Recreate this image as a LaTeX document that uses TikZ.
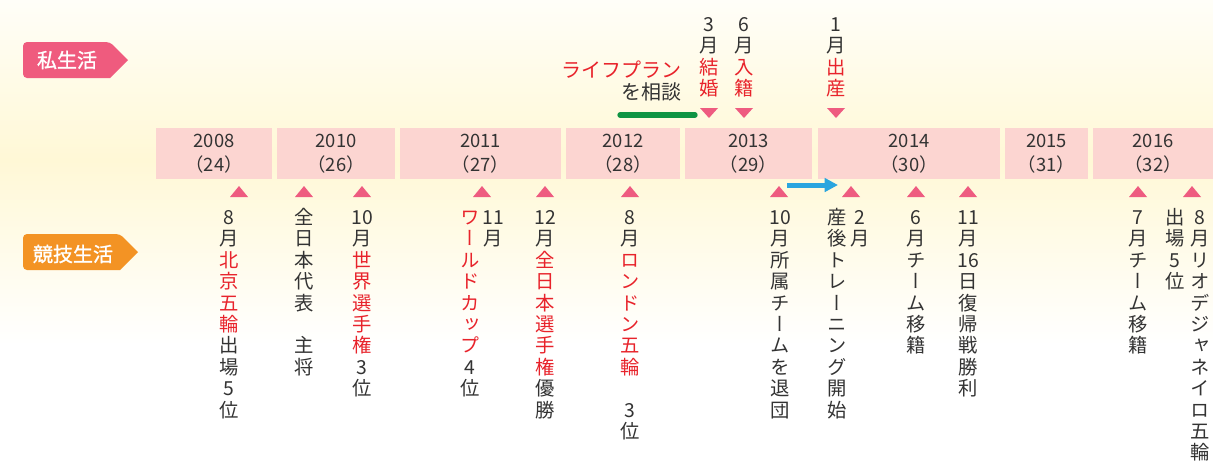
\documentclass[tikz,border=0pt]{standalone}
\usepackage{fontspec}
\setmainfont{Noto Sans CJK JP}
\newfontfamily\jp{Noto Sans CJK JP}
\newfontfamily\jpb[FakeBold=1.2]{Noto Sans CJK JP}
\newfontfamily\jpv[RawFeature={+vert}]{Noto Sans CJK JP}
\usetikzlibrary{arrows.meta}
\definecolor{jred}{HTML}{E8232B}
\definecolor{tri}{HTML}{EE5B80}
\definecolor{boxc}{HTML}{FCD5D1}
\definecolor{txt}{HTML}{333333}
\definecolor{tagp}{HTML}{EF5B7E}
\definecolor{tago}{HTML}{F39324}
\definecolor{bly}{HTML}{2AA5DF}
\definecolor{grn}{HTML}{0F9443}
\definecolor{yel}{HTML}{FFF8D6}
\definecolor{bgtop}{HTML}{FFFEF8}
\newcommand\rd[1]{\textcolor{jred}{#1}}
\tikzset{
  ch/.style={inner sep=0pt, font=\jpv\fontsize{14.5}{16}\selectfont, text=txt,
    anchor=center, text height=12.8pt, text depth=1.7pt},
  ybox/.style={fill=boxc, inner sep=0pt, minimum height=38.25pt, align=center,
    text=txt, font=\jp\fontsize{13.8}{18}\selectfont},
  tagtext/.style={text=white, inner sep=0pt, font=\jpb\fontsize{15}{18}\selectfont},
  toptext/.style={inner sep=0pt, font=\jp\fontsize{15}{18}\selectfont, text=txt}
}
\newcommand\vcol[4]{%
  \foreach \vc [count=\i from 0] in {#4} {\node[ch] (#1-\i) at (#2, #3+\i*21.4) {\vc};}%
}
\newcommand\uptri[1]{\fill[tri] (#1-9,197) -- (#1,186) -- (#1+9,197) -- cycle;}
\newcommand\dntri[1]{\fill[tri] (#1-9,108) -- (#1,118) -- (#1+9,108) -- cycle;}
\begin{document}
\begin{tikzpicture}[x=0.75pt,y=-0.75pt]
\useasboundingbox (0,0) rectangle (1213,462);
% background
\shade[top color=bgtop, bottom color=yel] (0,0) rectangle (1213,160);
\shade[top color=yel, bottom color=white] (0,160) rectangle (1213,345);
\fill[white] (0,345) rectangle (1213,462);
% tags
\fill[tagp] (23,60) [rounded corners=3pt] -- (23,42) -- (110,42) [sharp corners] -- (128,60) -- (110,78) [rounded corners=3pt] -- (23,78) [sharp corners] -- cycle;
\node[tagtext] (tagpriv) at (67,60) {私生活};
\fill[tago] (23,252) [rounded corners=3pt] -- (23,234) -- (120,234) [sharp corners] -- (138,252) -- (120,270) [rounded corners=3pt] -- (23,270) [sharp corners] -- cycle;
\node[tagtext] (tagcomp) at (73,254) {競技生活};
% year boxes
\node[ybox, minimum width=116*0.75pt] (y2008) at (214,153.5) {2008\\（24）};
\node[ybox, minimum width=118*0.75pt] (y2010) at (336,153.5) {2010\\（26）};
\node[ybox, minimum width=161*0.75pt] (y2011) at (480.5,153.5) {2011\\（27）};
\node[ybox, minimum width=114*0.75pt] (y2012) at (623,153.5) {2012\\（28）};
\node[ybox, minimum width=127*0.75pt] (y2013) at (748.5,153.5) {2013\\（29）};
\node[ybox, minimum width=182*0.75pt] (y2014) at (909,153.5) {2014\\（30）};
\node[ybox, minimum width=83*0.75pt] (y2015) at (1046.5,153.5) {2015\\（31）};
\node[ybox, minimum width=120*0.75pt] (y2016) at (1153,153.5) {2016\\（32）};
% private life (top)
\node[toptext, anchor=east, text=jred] (lp1) at (682,70) {ライフプラン};
\node[toptext, anchor=east] (lp2) at (682,92) {を相談};
\coordinate (g1) at (620,115);
\coordinate (g2) at (695,115);
\draw[grn, line width=4pt, line cap=round] (g1) -- (g2);
\vcol{m3}{709}{24}{3,月,\rd{結},\rd{婚}}
\vcol{m6}{744}{24}{6,月,\rd{入},\rd{籍}}
\vcol{b1}{836}{24}{1,月,\rd{出},\rd{産}}
\dntri{709}\dntri{744}\dntri{836}
% competition (bottom)
\uptri{239}\uptri{304}\uptri{362}\uptri{482}\uptri{545}\uptri{630}
\uptri{779}\uptri{851}\uptri{916}\uptri{968}\uptri{1138}\uptri{1192}
\coordinate (bs) at (787,185);
\coordinate (be) at (838,185);
\draw[bly, line width=3.75pt, -{Triangle[length=10pt,width=10pt]}] (bs) -- (be);
\vcol{a8}{229}{217}{8,月,\rd{北},\rd{京},\rd{五},\rd{輪},出,場,5,位}
\vcol{ajp}{304}{217}{全,日,本,代,表,{},主,将}
\vcol{a10}{362}{217}{10,月,\rd{世},\rd{界},\rd{選},\rd{手},\rd{権},3,位}
\vcol{a11r}{493}{217}{11,月}
\vcol{a11l}{470}{217}{\rd{ワ},\rd{ー},\rd{ル},\rd{ド},\rd{カ},\rd{ッ},\rd{プ},4,位}
\vcol{a12}{545}{217}{12,月,\rd{全},\rd{日},\rd{本},\rd{選},\rd{手},\rd{権},優,勝}
\vcol{l8}{630}{217}{8,月,\rd{ロ},\rd{ン},\rd{ド},\rd{ン},\rd{五},\rd{輪},{},3,位}
\vcol{t10}{780}{217}{10,月,所,属,チ,ー,ム,を,退,団}
\vcol{p2r}{860}{217}{2,月}
\vcol{p2l}{837}{217}{産,後,ト,レ,ー,ニ,ン,グ,開,始}
\vcol{c6}{916}{217}{6,月,チ,ー,ム,移,籍}
\vcol{w11}{968}{217}{11,月,16,日,復,帰,戦,勝,利}
\vcol{c7}{1138}{217}{7,月,チ,ー,ム,移,籍}
\vcol{r8r}{1200}{217}{8,月,リ,オ,デ,ジ,ャ,ネ,イ,ロ,五,輪}
\vcol{r8l}{1175}{217}{出,場,5,位}
\end{tikzpicture}
\end{document}
